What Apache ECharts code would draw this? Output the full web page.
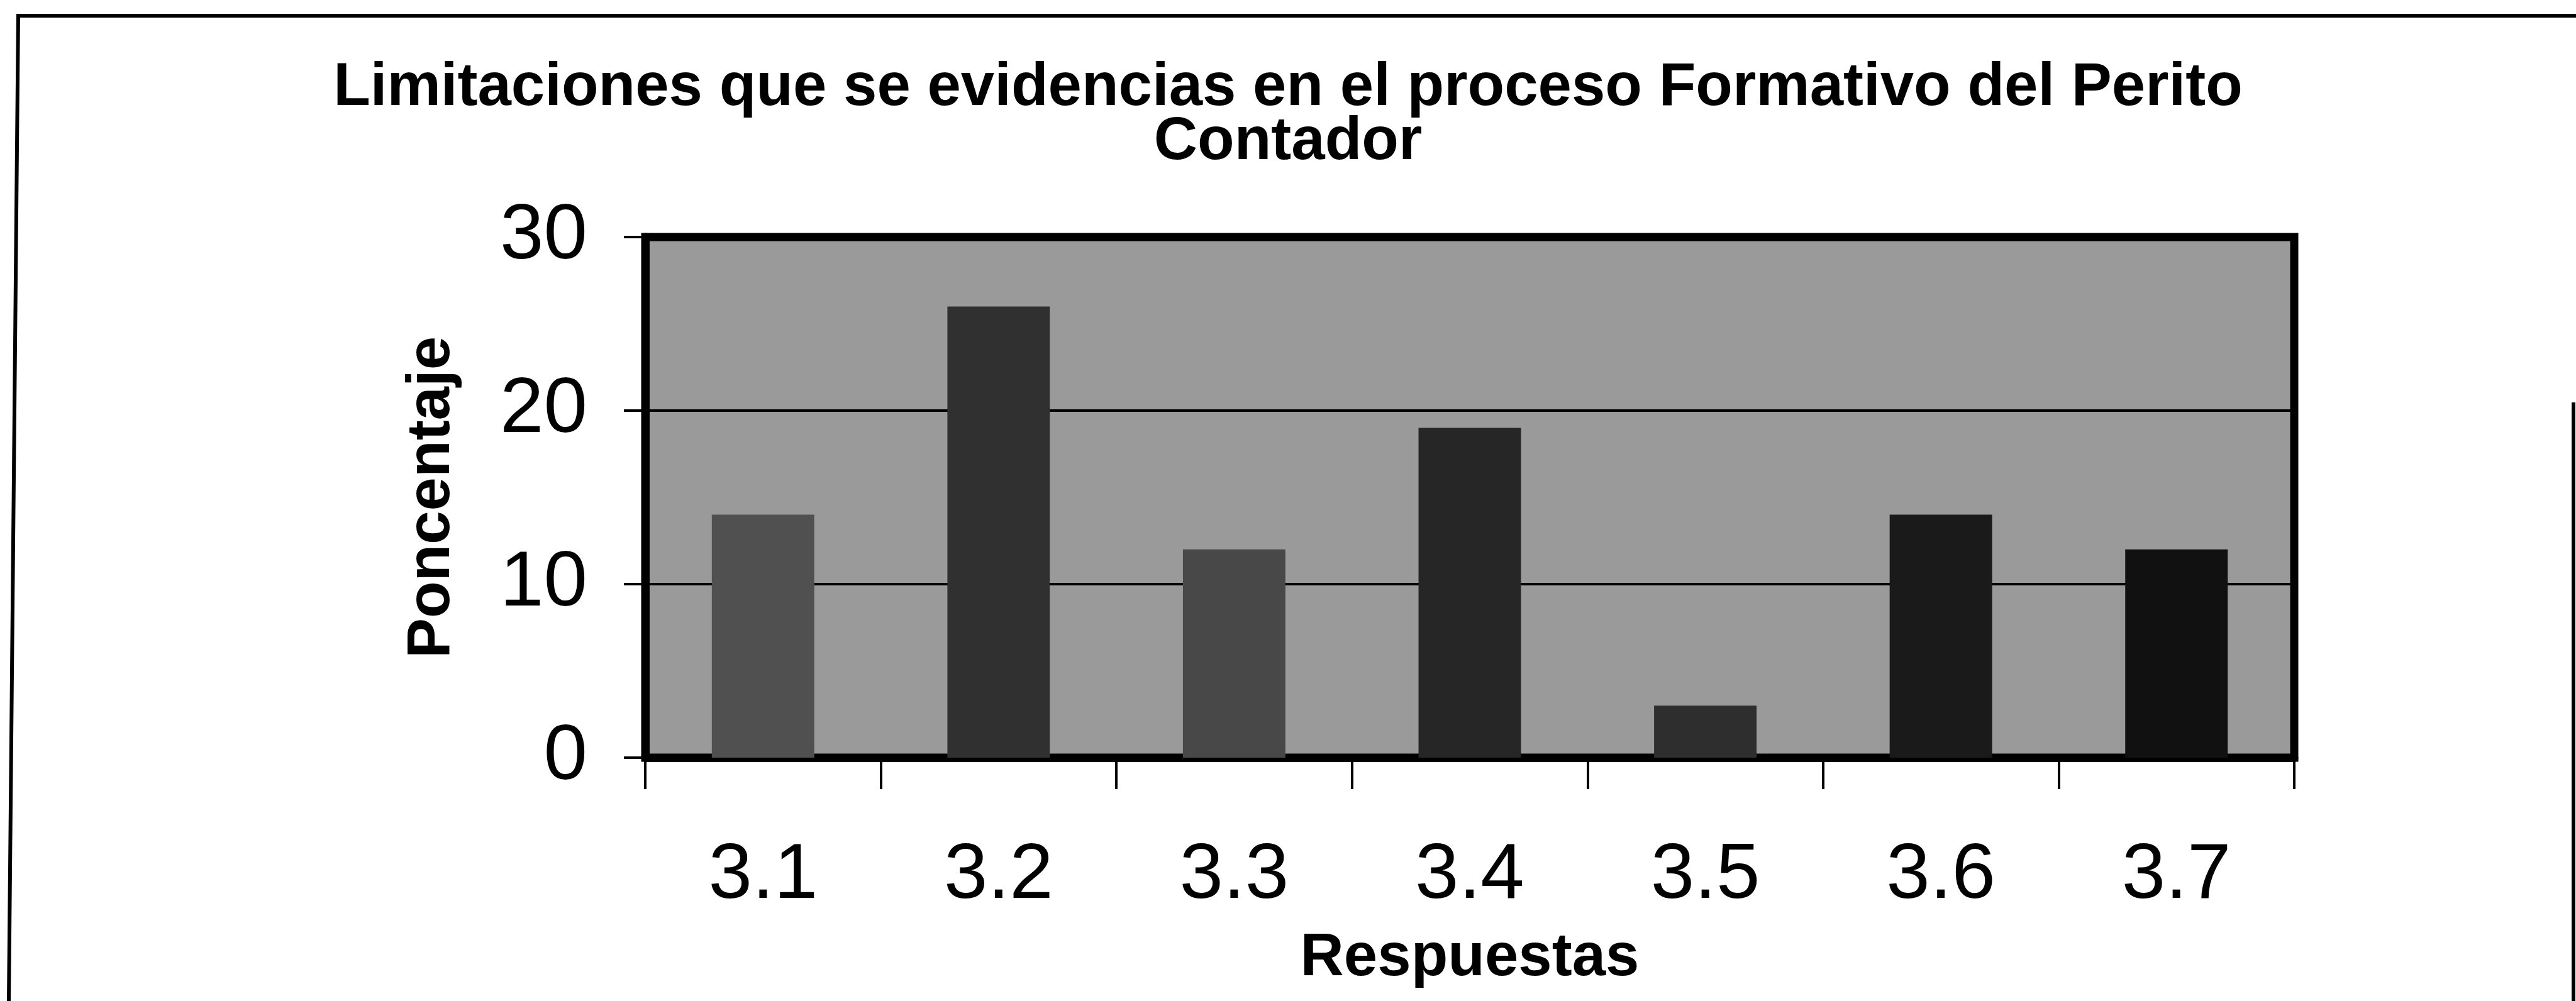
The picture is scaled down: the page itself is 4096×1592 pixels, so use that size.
<!DOCTYPE html>
<html>
<head>
<meta charset="utf-8">
<script src="https://cdn.jsdelivr.net/npm/echarts@6/dist/echarts.min.js"></script>
<style>
html,body{margin:0;padding:0;background:#fff;}
#chart{width:4096px;height:1592px;}
</style>
</head>
<body>
<div id="chart"></div>
<script>
const titleLines = ['Limitaciones que se evidencias en el proceso Formativo del Perito', 'Contador'];
const xAxisName = 'Respuestas';
const yAxisName = 'Poncentaje';
const categories = ['3.1', '3.2', '3.3', '3.4', '3.5', '3.6', '3.7'];
const values = [14, 26, 12, 19, 3, 14, 12];
const yTicks = [0, 10, 20, 30];
const barColors = ['#505050', '#303030', '#484848', '#262626', '#2e2e2e', '#1a1a1a', '#111111'];

const chart = echarts.init(document.getElementById('chart'), null, {renderer: 'canvas'});
const FONT = '"Liberation Sans", Arial, sans-serif';

chart.setOption({
  animation: false,
  backgroundColor: '#ffffff',
  title: {
    text: titleLines.join('\n'),
    left: 'center',
    top: 98,
    padding: [0, 0, 0, 44],
    textStyle: {
      fontFamily: FONT,
      fontWeight: 'bold',
      fontSize: 96,
      lineHeight: 86,
      color: '#000'
    }
  },
  grid: {
    left: 1026,
    right: 448,
    top: 377,
    bottom: 387,
    containLabel: false,
    outerBoundsMode: 'none',
    show: true,
    backgroundColor: '#9a9a9a',
    borderColor: '#000',
    borderWidth: 13
  },
  xAxis: {
    type: 'category',
    data: categories,
    name: xAxisName,
    nameLocation: 'middle',
    nameGap: 272,
    nameMoveOverlap: false,
    nameTextStyle: {fontFamily: FONT, fontWeight: 'bold', fontSize: 96, color: '#000'},
    axisLine: {show: true, lineStyle: {color: '#000', width: 13}},
    axisTick: {show: true, length: 50, lineStyle: {color: '#000', width: 4}},
    axisLabel: {margin: 126, fontFamily: FONT, fontSize: 125, color: '#000'},
    splitLine: {show: false}
  },
  yAxis: {
    type: 'value',
    min: yTicks[0],
    max: yTicks[yTicks.length - 1],
    interval: yTicks[1] - yTicks[0],
    name: yAxisName,
    nameLocation: 'middle',
    nameGap: 290,
    nameMoveOverlap: false,
    nameTextStyle: {fontFamily: FONT, fontWeight: 'bold', fontSize: 96, color: '#000'},
    axisLine: {show: true, lineStyle: {color: '#000', width: 13}},
    axisTick: {show: true, length: 34, lineStyle: {color: '#000', width: 4}},
    axisLabel: {margin: 92, fontFamily: FONT, fontSize: 125, color: '#000'},
    splitLine: {show: true, lineStyle: {color: '#000', width: 4}}
  },
  series: [{
    type: 'bar',
    barWidth: '43.5%',
    data: values.map((v, i) => ({value: v, itemStyle: {color: barColors[i]}})),
    label: {show: false}
  }],
  graphic: [
    {type: 'polyline', silent: true, z: 100,
     shape: {points: [[14, 1592], [29, 25], [4096, 25]]},
     style: {stroke: '#000', lineWidth: 6, fill: null}},
    {type: 'line', silent: true, z: 100,
     shape: {x1: 4092, y1: 640, x2: 4092, y2: 1592},
     style: {stroke: '#000', lineWidth: 6}}
  ]
});
</script>
</body>
</html>
